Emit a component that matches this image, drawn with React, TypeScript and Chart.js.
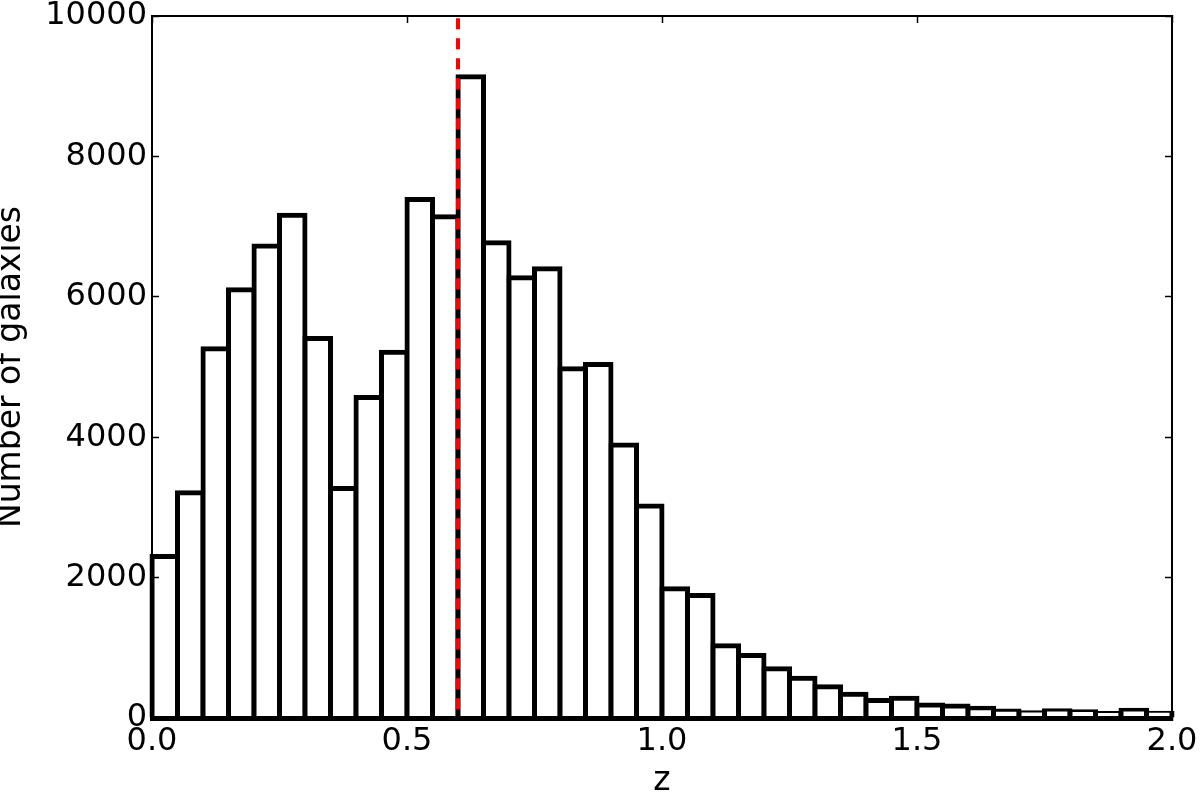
import React, { useEffect, useRef } from 'react';
import { Chart, registerables } from 'chart.js';

Chart.register(...registerables);

// Histogram bins (redshift z), bin width 0.05 from 0.0 to 2.0
const binStart = 0.0;
const binWidth = 0.05;
const galaxyCounts = [
  2300, 3210, 5260, 6100, 6725, 7160, 5405, 3270, 4565, 5210,
  7385, 7140, 9135, 6770, 6270, 6400, 4975, 5035, 3890, 3020,
  1840, 1745, 1030, 890, 700, 565, 445, 340, 250, 280,
  185, 170, 140, 100, 75, 105, 90, 65, 110, 68,
];
const markerZ = [0.6];
const xLimits = [0.0, 2.0];
const yLimits = [0, 10000];
const xTickStep = 0.5;
const yTickStep = 2000;
const xTitle = 'z';
const yTitle = 'Number of galaxies';

const FONT = "'DejaVu Sans', sans-serif";

function fixBox(size: { width?: number; height?: number }) {
  return (s: any) => {
    if (size.width !== undefined) s.width = size.width;
    if (size.height !== undefined) s.height = size.height;
    s.paddingLeft = 0;
    s.paddingRight = 0;
    s.paddingTop = 0;
    s.paddingBottom = 0;
  };
}

export default function App() {
  const canvasRef = useRef<HTMLCanvasElement | null>(null);

  useEffect(() => {
    const canvas = canvasRef.current;
    if (!canvas) return;

    const binCenters = galaxyCounts.map((_, i) => +(binStart + binWidth * (i + 0.5)).toFixed(4));
    const barData = galaxyCounts.map((c, i) => ({ x: binCenters[i], y: c }));
    const lineData = [
      { x: markerZ[0], y: yLimits[1] },
      { x: markerZ[0], y: yLimits[0] },
    ];

    const tickFont = { family: FONT, size: 32 };
    const titleFont = { family: FONT, size: 33, lineHeight: 1 };
    const innerTicks = {
      drawOnChartArea: false,
      drawTicks: true,
      offset: false,
      tickLength: -7,
      tickColor: '#000',
      tickWidth: 1.5,
      z: 1,
    };

    const chart = new Chart(canvas, {
      type: 'bar',
      data: {
        datasets: [
          {
            type: 'line',
            data: lineData,
            borderColor: '#ff0000',
            borderWidth: 4,
            borderDash: [11, 9],
            borderDashOffset: 17.7,
            borderCapStyle: 'butt',
            pointRadius: 0,
            fill: false,
            order: 0,
            clip: false,
          } as any,
          {
            type: 'bar',
            data: barData,
            backgroundColor: '#ffffff',
            borderColor: '#000000',
            borderWidth: 5,
            borderSkipped: 'start',
            inflateAmount: 2.5,
            barPercentage: 1,
            categoryPercentage: 1,
            order: 1,
            clip: false,
          } as any,
        ],
      },
      options: {
        animation: false,
        responsive: true,
        maintainAspectRatio: false,
        layout: { padding: 0 },
        plugins: {
          legend: { display: false },
          tooltip: { enabled: false },
          title: { display: false },
        },
        scales: {
          x: {
            type: 'linear',
            position: 'bottom',
            min: xLimits[0],
            max: xLimits[1],
            offset: false,
            afterFit: fixBox({ height: 77 }),
            border: { display: true, color: '#000', width: 5, z: 1 },
            grid: innerTicks,
            ticks: {
              stepSize: xTickStep,
              padding: 11,
              color: '#000',
              font: tickFont,
              maxRotation: 0,
              autoSkip: false,
              callback: (v: any) => Number(v).toFixed(1),
            },
            title: {
              display: true,
              text: xTitle,
              color: '#000',
              font: titleFont,
              padding: { top: 0, bottom: -3 },
            },
          },
          x2: {
            type: 'linear',
            position: 'top',
            min: xLimits[0],
            max: xLimits[1],
            offset: false,
            afterFit: fixBox({ height: 16 }),
            border: { display: true, color: '#000', width: 2, z: 1 },
            grid: innerTicks,
            ticks: { stepSize: xTickStep, display: false, autoSkip: false },
          },
          y: {
            type: 'linear',
            position: 'left',
            min: yLimits[0],
            max: yLimits[1],
            afterFit: fixBox({ width: 152 }),
            border: { display: true, color: '#000', width: 2, z: 1 },
            grid: innerTicks,
            ticks: {
              stepSize: yTickStep,
              padding: 12,
              color: '#000',
              font: tickFont,
              autoSkip: false,
              callback: (v: any) => String(v),
            },
            title: {
              display: true,
              text: yTitle,
              color: '#000',
              font: titleFont,
              padding: { top: -5, bottom: 0 },
            },
          },
          y2: {
            type: 'linear',
            position: 'right',
            min: yLimits[0],
            max: yLimits[1],
            afterFit: fixBox({ width: 28 }),
            border: { display: true, color: '#000', width: 2, z: 1 },
            grid: innerTicks,
            ticks: { stepSize: yTickStep, display: false, autoSkip: false },
          },
        },
      } as any,
    });

    return () => {
      chart.destroy();
    };
  }, []);

  return (
    <div
      style={{
        position: 'fixed',
        left: 0,
        top: 0,
        width: 1200,
        height: 795,
        background: '#ffffff',
      }}
    >
      <canvas ref={canvasRef} />
    </div>
  );
}
